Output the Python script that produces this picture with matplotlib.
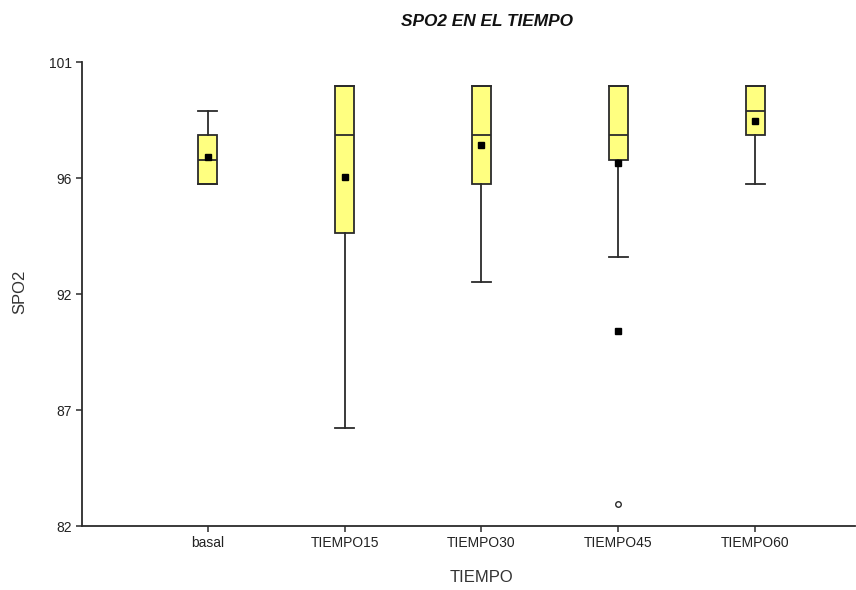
import matplotlib.pyplot as plt
import numpy as np

plt.rcParams['font.family'] = ['Liberation Sans', 'DejaVu Sans']

# Data
categories = ['basal', 'TIEMPO15', 'TIEMPO30', 'TIEMPO45', 'TIEMPO60']
q1 = [96, 94, 96, 97, 98]
medians = [97, 98, 98, 98, 99]
q3 = [98, 100, 100, 100, 100]
whisker_low = [96, 86, 92, 93, 96]
whisker_high = [99, 100, 100, 100, 100]
means = [97.1, 96.3, 97.6, 96.85, 98.6]
# TIEMPO45 outliers
far_outlier = [90.0]
extreme_outlier = [82.9]

yticks = np.linspace(82, 101, 5)
ytick_labels = ['82', '87', '92', '96', '101']

stats = []
for i, name in enumerate(categories):
    stats.append(dict(label=name, q1=q1[i], med=medians[i], q3=q3[i],
                      whislo=whisker_low[i], whishi=whisker_high[i],
                      mean=means[i], fliers=[]))

fig = plt.figure(figsize=(8.56, 5.90), dpi=100)
ax = fig.add_axes([82 / 856, 1 - 526 / 590, (855 - 82) / 856, (526 - 62) / 590])

pos = np.arange(1, len(categories) + 1)
lc = '#2b2b2b'
ax.bxp(stats, positions=pos, widths=0.14, patch_artist=True, showmeans=True,
       showfliers=False,
       boxprops=dict(facecolor='#ffff80', edgecolor=lc, linewidth=1.3),
       medianprops=dict(color=lc, linewidth=1.3),
       whiskerprops=dict(color=lc, linewidth=1.3),
       capprops=dict(color=lc, linewidth=1.3),
       capwidths=0.14,
       meanprops=dict(marker='s', markerfacecolor='black', markeredgecolor='black',
                      markersize=4))

ax.plot([pos[3]] * len(far_outlier), far_outlier, 's', color='black', markersize=4)
ax.plot([pos[3]] * len(extreme_outlier), extreme_outlier, 'o', markerfacecolor='white',
        markeredgecolor=lc, markersize=4, markeredgewidth=1)

ax.set_xlim(0.08, 5.73)
ax.set_ylim(82, 101)
ax.set_yticks(yticks)
ax.set_yticklabels(ytick_labels, fontsize=10, color='#222222')
ax.set_xticks(pos)
ax.set_xticklabels(categories, fontsize=10, color='#222222')
ax.tick_params(length=4, color=lc, width=1.1)
for s in ['top', 'right']:
    ax.spines[s].set_visible(False)
for s in ['left', 'bottom']:
    ax.spines[s].set_color(lc)
    ax.spines[s].set_linewidth(1.3)

fig.text(20 / 856, 1 - 292 / 590, 'SPO2', rotation=90, ha='center', va='center',
         fontsize=12, color='#333333')
fig.text(482 / 856, 1 - 578 / 590, 'TIEMPO', ha='center', va='center',
         fontsize=12, color='#333333')
fig.text(487 / 856, 1 - 22 / 590, 'SPO2 EN EL TIEMPO', ha='center', va='center',
         fontsize=12.4, fontweight='bold', fontstyle='italic', color='#111111')

plt.savefig('out.png', dpi=100)
